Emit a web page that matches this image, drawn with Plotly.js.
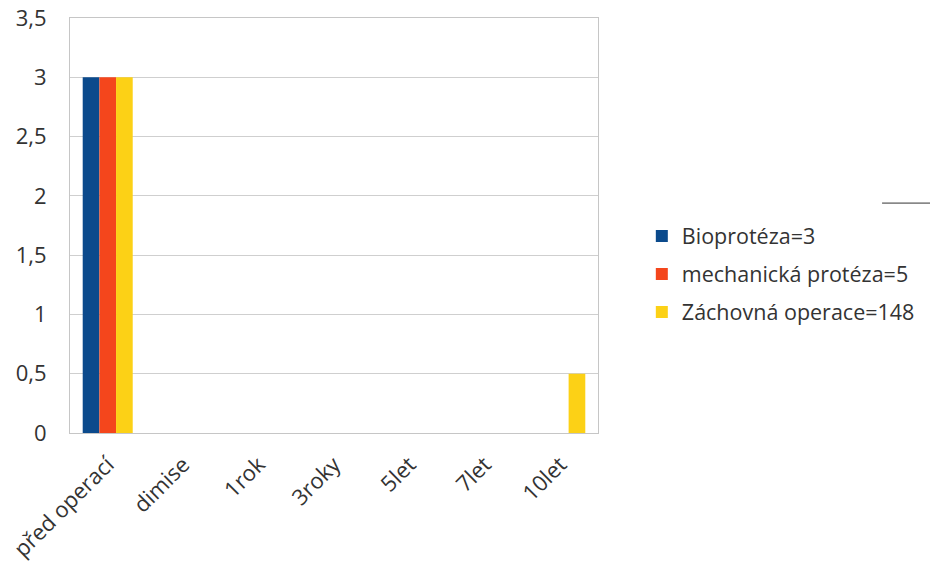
<!DOCTYPE html>
<html>
<head>
<meta charset="utf-8">
<script src="https://cdn.plot.ly/plotly-3.0.1.min.js"></script>
<style>html,body{margin:0;padding:0;background:#fff;}#chart{width:930px;height:567px;}</style>
</head>
<body>
<div id="chart"></div>
<script>
const categories = ["před operací", "dimise", "1rok", "3roky", "5let", "7let", "10let"];
const bioproteza = [3, 0, 0, 0, 0, 0, 0];
const mechanicka = [3, 0, 0, 0, 0, 0, 0];
const zachovna = [3, 0, 0, 0, 0, 0, 0.5];
const seriesNames = ["Bioprotéza=3", "mechanická protéza=5", "Záchovná operace=148"];
const yTicks = [0, 0.5, 1, 1.5, 2, 2.5, 3, 3.5];

const colors = ["#0b4a8c", "#f4461c", "#fcd116"];
const font = {family: "Open Sans, Noto Sans, sans-serif", size: 22, color: "#333333"};
const legendFont = {family: "Open Sans, Noto Sans, sans-serif", size: 21.5, color: "#333333"};

const traces = [bioproteza, mechanicka, zachovna].map((vals, i) => ({
  type: "bar",
  x: categories,
  y: vals,
  name: seriesNames[i],
  legendgroup: "g" + i,
  marker: {color: colors[i], line: {width: 0}},
  hoverinfo: "x+y+name"
}));

const layout = {
  width: 930,
  height: 567,
  margin: {l: 70, r: 332, t: 18, b: 134, autoexpand: false},
  paper_bgcolor: "#ffffff",
  plot_bgcolor: "#ffffff",
  separators: ", ",
  barmode: "group",
  bargap: 0.337,
  bargroupgap: 0,
  font: font,
  showlegend: true,
  legend: {
    x: 1.083, xanchor: "left",
    y: 0.383, yanchor: "middle",
    traceorder: "grouped",
    tracegroupgap: 7,
    font: legendFont,
    bgcolor: "rgba(0,0,0,0)",
    itemclick: false
  },
  xaxis: {
    type: "category",
    tickangle: -45,
    ticks: "",
    showgrid: false,
    showline: true,
    linecolor: "#c6c6c6",
    linewidth: 1,
    mirror: true,
    tickfont: font,
    ticklabelstandoff: 9,
    automargin: false,
    fixedrange: true
  },
  yaxis: {
    range: [0, 3.5],
    tickvals: yTicks,
    ticks: "",
    showgrid: true,
    gridcolor: "#cfcfcf",
    gridwidth: 1,
    zeroline: false,
    showline: true,
    linecolor: "#c6c6c6",
    linewidth: 1,
    mirror: true,
    tickfont: font,
    ticklabelstandoff: 18,
    automargin: false,
    fixedrange: true
  },
  shapes: [{
    type: "line", xref: "paper", yref: "paper",
    x0: 1.538, x1: 1.64, y0: 0.554, y1: 0.554,
    line: {color: "#333333", width: 1}
  }]
};

Plotly.newPlot("chart", traces, layout, {displayModeBar: false, staticPlot: true});
</script>
</body>
</html>
